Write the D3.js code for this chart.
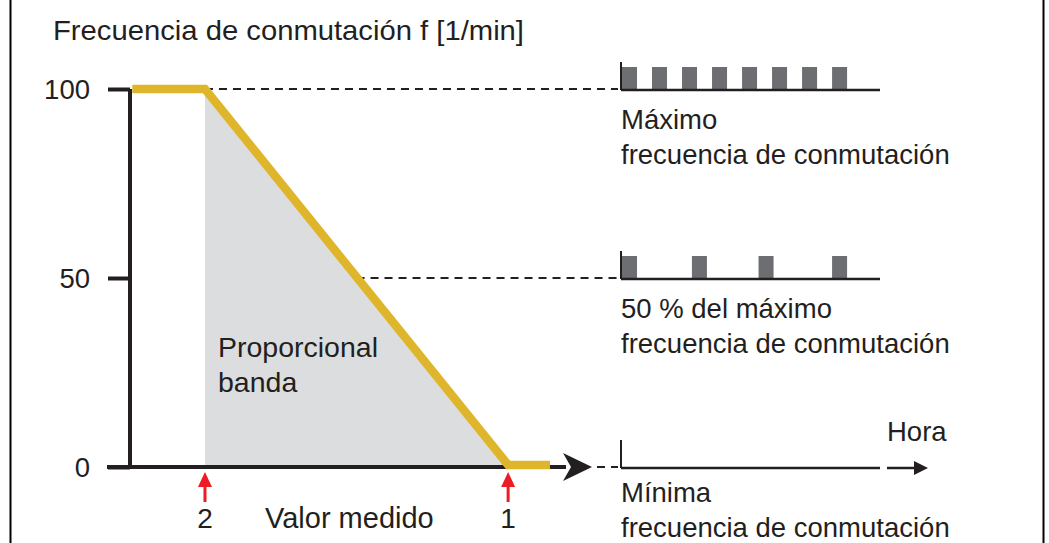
<!DOCTYPE html>
<html>
<head>
<meta charset="utf-8">
<script src="https://cdn.jsdelivr.net/npm/d3@7"></script>
<style>
  html, body { margin: 0; padding: 0; background: #fff; }
  svg text { font-family: "Liberation Sans", Arial, sans-serif; fill: #231f20; }
</style>
</head>
<body>
<svg id="chart"></svg>
<script>
// characteristic curve: measured value (0..100 along the axis) vs switching frequency
const curveValor = [0.5, 16.3, 82.2, 91.3]
const curveFreq = [100, 100, 0, 0]
const yTicks = [0, 50, 100]
// points "2" and "1" on the measured value axis
const marks = [{ label: '2', v: 16.3 }, { label: '1', v: 82.2 }]

// pulse trains (start times, in periods of the maximum frequency)
const pulsesMax = [0, 1, 2, 3, 4, 5, 6, 7]
const pulsesHalf = [0, 2.33, 4.55, 7.0]
const pulsesMin = []
const panels = [
  { freq: 100, pulses: pulsesMax, lines: ['Máximo', 'frecuencia de conmutación'] },
  { freq: 50, pulses: pulsesHalf, lines: ['50 % del máximo', 'frecuencia de conmutación'] },
  { freq: 0, pulses: pulsesMin, lines: ['Mínima', 'frecuencia de conmutación'] },
]

const W = 1049, H = 543
const ink = '#231f20'
const yellow = '#dfb62b'

const svg = d3.select('#chart').attr('width', W).attr('height', H)

const x = d3.scaleLinear().domain([0, 100]).range([130, 590])
const y = d3.scaleLinear().domain([0, 100]).range([467, 89])
const t = d3.scaleLinear().domain([0, 8.63]).range([621, 880])

const pts = curveValor.map((v, i) => ({ v, f: curveFreq[i] }))

// frame
svg.append('line').attr('x1', 10.5).attr('x2', 10.5).attr('y1', 0).attr('y2', H)
  .attr('stroke', '#000').attr('stroke-width', 2)
svg.append('line').attr('x1', 1043.5).attr('x2', 1043.5).attr('y1', 0).attr('y2', H)
  .attr('stroke', '#000').attr('stroke-width', 2)

// title
svg.append('text').attr('x', 53).attr('y', 40).attr('font-size', 28)
  .attr('textLength', 471).attr('lengthAdjust', 'spacingAndGlyphs')
  .text('Frecuencia de conmutación f [1/min]')

// shaded proportional band
const area = d3.area().x(d => x(d.v)).y0(y(0)).y1(d => y(d.f))
svg.append('path').datum(pts.slice(1, 3)).attr('fill', '#dcdddf').attr('d', area)

svg.append('text').attr('x', 218).attr('y', 357).attr('font-size', 28.5).text('Proporcional')
svg.append('text').attr('x', 218).attr('y', 392).attr('font-size', 28.5).text('banda')

// dashed guides
const dash = (x1, x2, yy) => svg.append('line')
  .attr('x1', x1).attr('x2', x2).attr('y1', yy).attr('y2', yy)
  .attr('stroke', ink).attr('stroke-width', 2).attr('stroke-dasharray', '8,6')
dash(x(16.3), 618, y(100))
dash(x((16.3 + 82.2) / 2), 618, y(50))
dash(597, 618, y(0))

// y axis
const yAxis = svg.append('g').attr('transform', `translate(${x(0)},0)`)
  .call(d3.axisLeft(y).tickValues(yTicks).tickSize(22).tickSizeOuter(0).tickPadding(18))
yAxis.select('.domain').attr('stroke', ink).attr('stroke-width', 4)
  .attr('d', `M0,${y(100)}V${y(0)}`)
yAxis.selectAll('.tick line').attr('stroke', ink).attr('stroke-width', 4)
yAxis.selectAll('.tick text').attr('font-size', 27.5).attr('fill', ink)
  .attr('font-family', '"Liberation Sans", Arial, sans-serif').attr('dy', '0.36em')

// x axis with arrow
svg.append('line').attr('x1', 107).attr('x2', 566).attr('y1', y(0)).attr('y2', y(0))
  .attr('stroke', ink).attr('stroke-width', 4)
svg.append('path').attr('fill', ink)
  .attr('d', `M563,${y(0) - 14}L592,${y(0)}L563,${y(0) + 14}L571,${y(0)}Z`)

// yellow characteristic
svg.append('path').datum(pts).attr('fill', 'none').attr('stroke', yellow)
  .attr('stroke-width', 8.5).attr('stroke-linejoin', 'miter')
  .attr('d', d3.line().x(d => x(d.v)).y(d => y(d.f) - (d.f === 0 ? 2 : 0)))

// red markers
const mk = svg.append('g').selectAll('g').data(marks).join('g')
  .attr('transform', d => `translate(${x(d.v)},0)`)
mk.append('line').attr('x1', 0).attr('x2', 0).attr('y1', 484).attr('y2', 502)
  .attr('stroke', '#ed1c24').attr('stroke-width', 3)
mk.append('path').attr('fill', '#ed1c24').attr('d', 'M0,472L7,487L-7,487Z')
mk.append('text').attr('y', 528).attr('text-anchor', 'middle').attr('font-size', 28)
  .text(d => d.label)
svg.append('text').attr('x', 265).attr('y', 528).attr('font-size', 29).text('Valor medido')

// pulse panels (label offset below each baseline)
const labelDy = [40, 40, 35]
panels.forEach((p, k) => {
  const base = y(p.freq) + 1
  const g = svg.append('g')
  g.append('line').attr('x1', t(0)).attr('x2', t(0)).attr('y1', base - 28).attr('y2', base)
    .attr('stroke', ink).attr('stroke-width', 2)
  g.selectAll('rect').data(p.pulses).join('rect')
    .attr('x', d => t(d) + 1).attr('width', t(0.5) - t(0))
    .attr('y', base - 23).attr('height', 23)
    .attr('fill', '#6d6e71')
  g.append('line').attr('x1', t(0)).attr('x2', t(8.63)).attr('y1', base).attr('y2', base)
    .attr('stroke', ink).attr('stroke-width', 2.5)
  p.lines.forEach((s, i) => {
    g.append('text').attr('x', 621).attr('y', y(p.freq) + labelDy[k] + i * 34.5)
      .attr('font-size', 27.5).text(s)
  })
})

// time arrow
svg.append('line').attr('x1', 887).attr('x2', 916).attr('y1', y(0) + 1).attr('y2', y(0) + 1)
  .attr('stroke', ink).attr('stroke-width', 2.5)
svg.append('path').attr('fill', ink)
  .attr('d', `M914,${y(0) - 6}L928,${y(0) + 1}L914,${y(0) + 8}Z`)
svg.append('text').attr('x', 887).attr('y', 441).attr('font-size', 27.5).text('Hora')
</script>
</body>
</html>
